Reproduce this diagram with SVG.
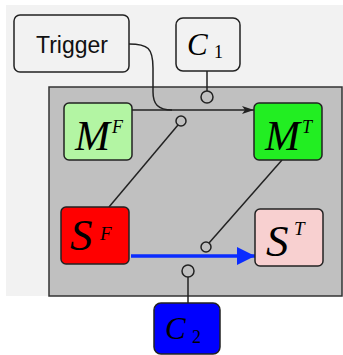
<svg xmlns="http://www.w3.org/2000/svg" width="343" height="355" viewBox="0 0 343 355">
  <defs>
    <marker id="arrowBlack" markerWidth="12" markerHeight="8" refX="12" refY="4" orient="auto" markerUnits="userSpaceOnUse">
      <path d="M0,0 L12,4 L0,8 L3,4 Z" fill="#222"/>
    </marker>
    <marker id="arrowBlue" markerWidth="18" markerHeight="18" refX="18" refY="9" orient="auto" markerUnits="userSpaceOnUse">
      <path d="M0,0 L18,9 L0,18 Z" fill="#0a2cff"/>
    </marker>
  </defs>
  <style>
    .node rect { stroke: #222; stroke-width: 1.5; }
    .math { font-family: "Liberation Serif", "DejaVu Serif", serif; font-style: italic; fill: #000; }
    .idx { font-family: "Liberation Serif", "DejaVu Serif", serif; fill: #000; }
    .label { font-family: "Liberation Sans", Arial, sans-serif; font-size: 23px; fill: #111; }
    .wire { fill: none; stroke: #222; stroke-width: 1.5; }
    .port { fill: none; stroke: #222; stroke-width: 1.5; }
  </style>

  <!-- backdrop and container -->
  <rect x="6" y="5" width="337" height="291" fill="#f2f2f2"/>
  <rect id="container" x="49" y="87" width="293" height="209" fill="#c0c0c0" stroke="#333" stroke-width="1.5"/>

  <!-- connectors -->
  <g id="connectors">
    <path class="wire" d="M129,44 C148,44 153,48 153,68 L153,92 C153,104 158,110 172,110 L254,110" marker-end="url(#arrowBlack)"/>
    <line class="wire" x1="132" y1="110" x2="172" y2="110"/>
    <line class="wire" x1="207" y1="71" x2="207" y2="91"/>
    <circle class="port" cx="207" cy="97" r="6"/>
    <circle class="port" cx="181" cy="121" r="5"/>
    <line class="wire" x1="178" y1="125" x2="109" y2="207"/>
    <line class="wire" x1="282" y1="160" x2="209" y2="243"/>
    <circle class="port" cx="206" cy="247" r="5"/>
    <line x1="131" y1="256" x2="255" y2="256" stroke="#0a2cff" stroke-width="3.5" marker-end="url(#arrowBlue)"/>
    <circle class="port" cx="188" cy="271" r="6"/>
    <line class="wire" x1="188" y1="277" x2="188" y2="303"/>
  </g>

  <g id="trigger" class="node">
    <rect x="14" y="15" width="115" height="57" rx="6" fill="#f2f2f2"/>
    <text class="label" x="72" y="53" text-anchor="middle">Trigger</text>
  </g>

  <g id="c1" class="node">
    <rect x="176" y="18" width="64" height="53" rx="7" fill="#f2f2f2"/>
    <text class="math" x="187" y="55" font-size="31">C</text>
    <text class="idx" x="214" y="58" font-size="18">1</text>
  </g>

  <g id="mf" class="node">
    <rect x="64" y="103" width="68" height="57" rx="5" fill="#b3f5a3"/>
    <text class="math" x="75" y="150" font-size="42">M</text>
    <text class="math" x="112" y="133" font-size="18">F</text>
  </g>

  <g id="mt" class="node">
    <rect x="254" y="103" width="68" height="57" rx="5" fill="#22ee22"/>
    <text class="math" x="265" y="150" font-size="42">M</text>
    <text class="math" x="302" y="133" font-size="18">T</text>
  </g>

  <g id="sf" class="node">
    <rect x="61" y="207" width="68" height="57" rx="5" fill="#ff0000"/>
    <text class="math" x="70" y="250" font-size="45">S</text>
    <text class="math" x="100" y="240" font-size="19">F</text>
  </g>

  <g id="st" class="node">
    <rect x="255" y="209" width="68" height="57" rx="5" fill="#f8d0d0"/>
    <text class="math" x="266" y="256" font-size="45">S</text>
    <text class="math" x="294" y="235" font-size="19">T</text>
  </g>

  <g id="c2" class="node">
    <rect x="154" y="303" width="66" height="51" rx="7" fill="#0000ff"/>
    <text class="math" x="165" y="339" font-size="31">C</text>
    <text class="idx" x="192" y="343" font-size="18">2</text>
  </g>
</svg>
